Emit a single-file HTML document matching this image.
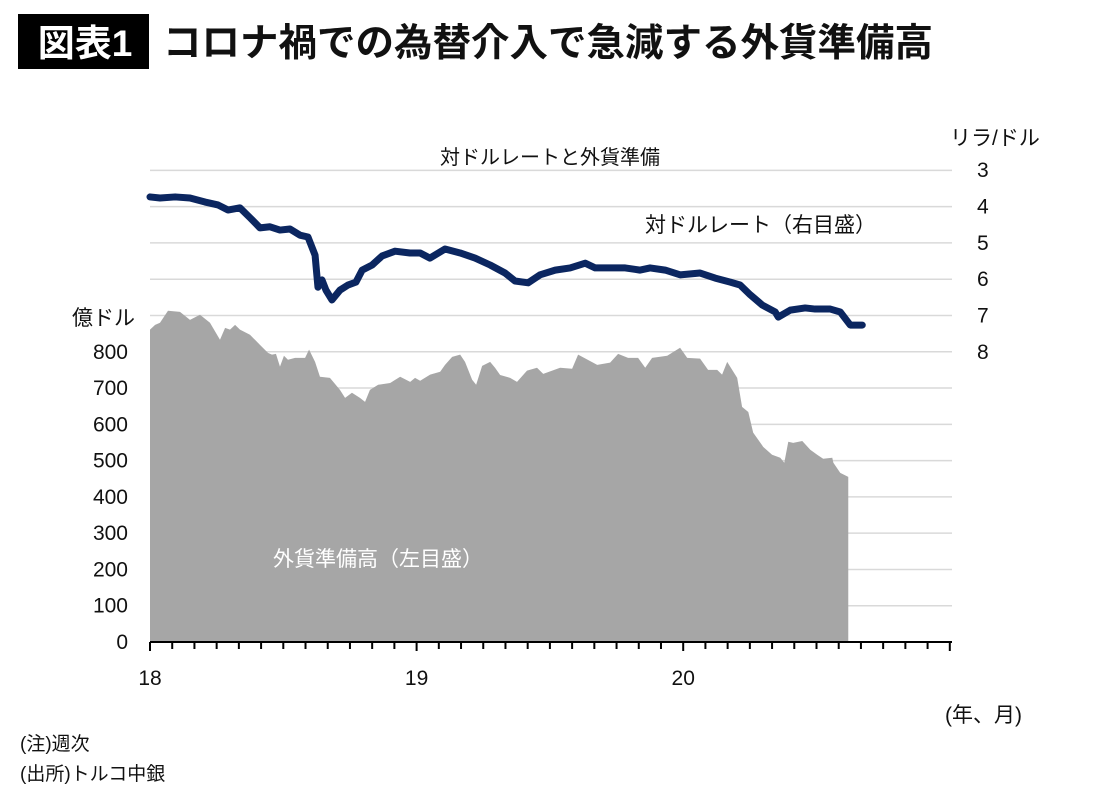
<!DOCTYPE html>
<html><head><meta charset="utf-8"><style>
body{margin:0;width:1100px;height:800px;background:#fff;overflow:hidden;font-family:"Liberation Sans","Noto Sans CJK JP",sans-serif;}
</style></head><body>
<svg id="chart" width="1100" height="800" xmlns="http://www.w3.org/2000/svg" font-family="'Liberation Sans','Noto Sans CJK JP',sans-serif">
<rect x="18" y="14" width="131" height="55" fill="#000"/>
<text x="85" y="56" font-size="37" font-weight="bold" fill="#fff" text-anchor="middle">図表1</text>
<text x="163" y="56" font-size="38.5" font-weight="bold" fill="#111">コロナ禍での為替介入で急減する外貨準備高</text>
<g id="grid"></g>
<g id="area"></g>
<g id="line"></g>
<g id="axes"></g>
<text x="550" y="164" font-size="20" text-anchor="middle" fill="#111">対ドルレートと外貨準備</text>
<text x="645" y="232" font-size="21" fill="#111">対ドルレート（右目盛）</text>
<text x="273" y="566" font-size="21" fill="#fff">外貨準備高（左目盛）</text>
<text x="72" y="325" font-size="21" fill="#111">億ドル</text>
<text x="950" y="145" font-size="21" fill="#111">リラ/ドル</text>
<text x="945" y="722" font-size="21" fill="#111">(年、月)</text>
<text x="20" y="750" font-size="19" fill="#111">(注)週次</text>
<text x="20" y="780" font-size="19" fill="#111">(出所)トルコ中銀</text>
</svg>
<script>
const leftTicks=[0,100,200,300,400,500,600,700,800];
const rightTicks=[3,4,5,6,7,8];
const yearLabels=["18","19","20"];
const resMonths=[0,0.23,0.45,0.81,1.35,1.8,2.25,2.7,3.15,3.38,3.6,3.83,4.05,4.5,4.95,5.31,5.49,5.67,5.85,6.03,6.21,6.53,6.98,7.16,7.43,7.65,8.1,8.55,8.78,9.09,9.45,9.68,9.9,10.27,10.81,11.26,11.71,11.93,12.16,12.61,13.06,13.28,13.6,13.96,14.18,14.5,14.68,14.95,15.31,15.53,15.76,16.21,16.52,16.97,17.42,17.7,18.46,19.0,19.27,20.13,20.71,21.07,21.52,21.97,22.29,22.6,23.28,23.86,24.18,24.76,25.12,25.53,25.75,25.98,26.43,26.65,26.93,27.15,27.6,28.0,28.37,28.55,28.73,28.95,29.36,29.72,30.03,30.3,30.71,30.76,31.07,31.43];
const reserves=[861,874,880,913,910,888,902,880,833,866,861,874,861,847,819,797,792,794,759,789,778,783,783,806,772,731,728,695,673,687,673,662,695,709,714,731,717,728,720,737,745,764,786,792,772,723,709,761,772,756,736,728,717,748,756,739,756,753,792,764,770,794,783,783,756,783,789,811,783,781,750,750,737,772,728,648,634,577,538,516,508,494,552,549,554,530,516,505,508,494,466,455];
const rateMonths=[0,0.45,1.13,1.8,2.48,3.06,3.51,4.05,4.5,4.95,5.4,5.85,6.3,6.75,7.11,7.43,7.56,7.74,7.92,8.19,8.55,8.91,9.27,9.55,10.0,10.45,11.03,11.7,12.16,12.6,13.28,13.96,14.63,15.31,15.98,16.43,17.02,17.56,18.24,18.91,19.59,20.04,20.71,21.39,22.06,22.51,23.19,23.86,24.76,25.44,26.12,26.56,27.02,27.56,28.14,28.28,28.82,29.49,29.94,30.62,31.07,31.52,32.06];
const rates=[3.74,3.77,3.74,3.77,3.88,3.96,4.10,4.04,4.31,4.59,4.56,4.65,4.62,4.79,4.84,5.34,6.22,6.02,6.30,6.57,6.30,6.16,6.08,5.75,5.61,5.36,5.23,5.28,5.28,5.42,5.17,5.28,5.42,5.61,5.83,6.05,6.10,5.88,5.75,5.69,5.56,5.69,5.69,5.69,5.75,5.69,5.75,5.88,5.83,5.97,6.08,6.16,6.43,6.71,6.90,7.04,6.85,6.79,6.82,6.82,6.90,7.26,7.26];
const NS="http://www.w3.org/2000/svg";
const x0=150,x1=952,y0=642;
const xS=m=>x0+m*(266.6/12);
const yL=v=>y0-v*0.3628;
const yR=r=>170+(r-3)*36.4;
function mk(t,a,p){const e=document.createElementNS(NS,t);for(const k in a)e.setAttribute(k,a[k]);p.appendChild(e);return e;}
const grid=document.getElementById('grid');
for(let v=100;v<=1300;v+=100){
  const g=mk('line',{x1:x0,x2:x1,y1:yL(v),y2:yL(v),stroke:'#d9d9d9','stroke-width':1.5},grid);
  
  
}
const area=document.getElementById('area');
let d='M'+xS(resMonths[0])+','+y0;
resMonths.forEach((m,i)=>{d+=' L'+xS(m)+','+yL(reserves[i]);});
d+=' L'+xS(resMonths[resMonths.length-1])+','+y0+' Z';
const ar=mk('path',{d:d,fill:'#a6a6a6'},area);


const line=document.getElementById('line');
const pts=rateMonths.map((m,i)=>xS(m)+','+yR(rates[i])).join(' ');
const ln=mk('polyline',{points:pts,fill:'none',stroke:'#0b2660','stroke-width':7,'stroke-linejoin':'round','stroke-linecap':'round'},line);


const ax=document.getElementById('axes');
const xa=mk('line',{x1:x0,x2:x1,y1:y0,y2:y0,stroke:'#000','stroke-width':2},ax);


for(let m=0;m<=36;m++){
  const t=mk('line',{x1:xS(m),x2:xS(m),y1:y0,y2:y0+(m%12===0?9:7),stroke:'#000','stroke-width':2},ax);
  
  
}
yearLabels.forEach((l,i)=>{
  const t=mk('text',{x:xS(i*12),y:685,'font-size':21,'text-anchor':'middle',fill:'#111'},ax);t.textContent=l;
  
  
});
leftTicks.forEach(v=>{
  const t=mk('text',{x:128,y:yL(v)+7,'font-size':21,'text-anchor':'end',fill:'#111'},ax);t.textContent=v;
  
  
});
rightTicks.forEach(v=>{
  const t=mk('text',{x:977,y:yR(v)+7,'font-size':21,fill:'#111'},ax);t.textContent=v;
  
  
});
</script>
</body></html>
